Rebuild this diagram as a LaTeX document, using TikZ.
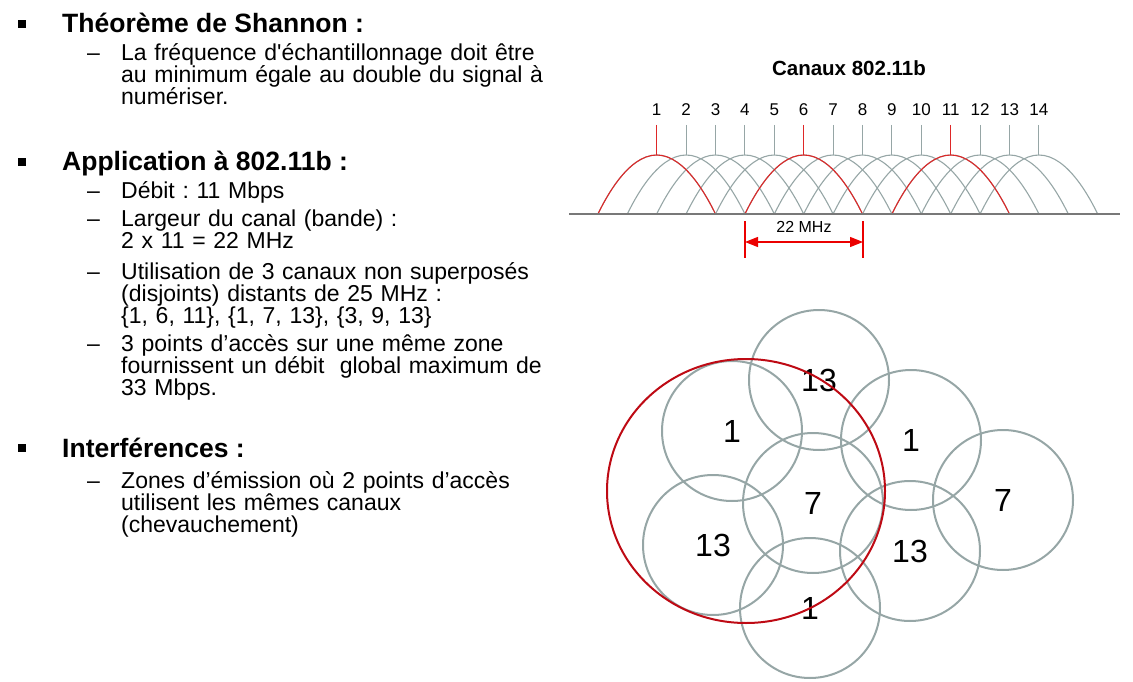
\documentclass[tikz,border=0pt]{standalone}
\usepackage{fontspec}
\setmainfont{Liberation Sans}
\usetikzlibrary{arrows.meta,positioning}
\frenchspacing

\definecolor{cellgray}{RGB}{150,166,166}
\definecolor{chanred}{RGB}{222,40,40}
\definecolor{mhzred}{RGB}{235,0,0}
\definecolor{zonered}{RGB}{190,10,20}
\definecolor{axisgray}{RGB}{120,120,120}

\tikzset{
  head/.style={anchor=base west, inner sep=0pt,
    font=\fontsize{26.5}{28}\selectfont\bfseries},
  item/.style={anchor=base west, inner sep=0pt, text width=440pt,
    align=left, font=\fontsize{23}{22}\selectfont},
  dashmark/.style={anchor=base west, inner sep=0pt,
    font=\fontsize{23}{22}\selectfont},
  bulletsq/.style={fill=black, minimum size=8pt, inner sep=0pt},
  chnum/.style={inner sep=0pt, font=\fontsize{17}{18}\selectfont},
  chline/.style={line width=1.1pt},
  mhz/.style={mhzred, line width=1.2pt},
  cell/.style={circle, draw=cellgray, line width=2pt, minimum size=140pt,
    inner sep=0pt, font=\fontsize{32}{34}\selectfont}
}

\begin{document}
\begin{tikzpicture}[x=1pt,y=-1pt]
  \useasboundingbox (0,0) rectangle (1133,682);

  % texte de gauche
  \node[bulletsq] (b1) at (22,24) {};
  \node[head] (h1) at (62,33) {Théorème de Shannon :};
  \node[dashmark] (d11) at (87,61) {–};
  \node[item] (i11) at (121,61) {La fréquence d\textquotesingle échantillonnage doit être\\
    au minimum égale au double du signal à\\numériser.};

  \node[bulletsq] (b2) at (22,162) {};
  \node[head] (h2) at (62,171) {Application à 802.11b :};
  \node[dashmark] (d21) at (87,199) {–};
  \node[item] (i21) at (121,199) {Débit : 11 Mbps};
  \node[dashmark] (d22) at (87,226) {–};
  \node[item] (i22) at (121,226) {Largeur du canal (bande) :\\2 x 11 = 22 MHz};
  \node[dashmark] (d23) at (87,279) {–};
  \node[item] (i23) at (121,279) {Utilisation de 3 canaux non superposés\\
    (disjoints) distants de 25 MHz :\\\{1, 6, 11\}, \{1, 7, 13\}, \{3, 9, 13\}};
  \node[dashmark] (d24) at (87,351) {–};
  \node[item] (i24) at (121,351) {3 points d’accès sur une même zone\\
    fournissent un débit\ \ global maximum de\\33 Mbps.};

  \node[bulletsq] (b3) at (22,448) {};
  \node[head] (h3) at (62,457) {Interférences :};
  \node[dashmark] (d31) at (87,488) {–};
  \node[item] (i31) at (121,488) {Zones d’émission où 2 points d’accès\\
    utilisent les mêmes canaux\\(chevauchement)};

  % canaux 802.11b
  \node[font=\fontsize{20.5}{22}\selectfont\bfseries] (title) at (849,68) {Canaux 802.11b};
  \coordinate (ax0) at (569,214);
  \coordinate (ax1) at (1120,214);
  \foreach \i in {1,...,14}{
    \pgfmathsetmacro\cx{627.3+29.4*\i}
    \node[chnum] (n\i) at (\cx,110) {\i};
    \coordinate (t\i) at (\cx,125);
    \coordinate (p\i) at (\cx,155);
    \coordinate (l\i) at (\cx-58.8,214);
    \coordinate (r\i) at (\cx+58.8,214);
    \draw[chline, cellgray] (t\i) -- (p\i);
    \draw[chline, cellgray] (l\i) parabola bend (p\i) (r\i);
  }
  \foreach \i in {1,6,11}{
    \draw[chline, chanred] (t\i) -- (p\i);
    \draw[chline, chanred] (l\i) parabola bend (p\i) (r\i);
  }
  \draw[axisgray, line width=2pt] (ax0) -- (ax1);

  % largeur de bande
  \coordinate (m4a) at (745,221);
  \coordinate (m4b) at (745,258);
  \coordinate (m8a) at (863,221);
  \coordinate (m8b) at (863,258);
  \draw[mhz] (m4a) -- (m4b);
  \draw[mhz] (m8a) -- (m8b);
  \coordinate (a4) at (745,242);
  \coordinate (a8) at (863,242);
  \draw[mhz, {Triangle[length=13pt,width=10pt]}-{Triangle[length=13pt,width=10pt]}] (a4) -- (a8);
  \node[font=\fontsize{16}{18}\selectfont] (bw) at (804,227) {22 MHz};

  % cellules
  \node[cell] (c13a) at (819,380) {13};
  \node[cell] (c1a) at (732,431) {1};
  \node[cell] (c1b) at (911,440) {1};
  \node[cell] (c7a) at (813,503) {7};
  \node[cell] (c7b) at (1003,500) {7};
  \node[cell] (c13b) at (713,545) {13};
  \node[cell] (c13c) at (910,551) {13};
  \node[cell] (c1c) at (810,608) {1};
  \draw[zonered, line width=2pt] (746,491) ellipse [x radius=139, y radius=132];
\end{tikzpicture}
\end{document}
